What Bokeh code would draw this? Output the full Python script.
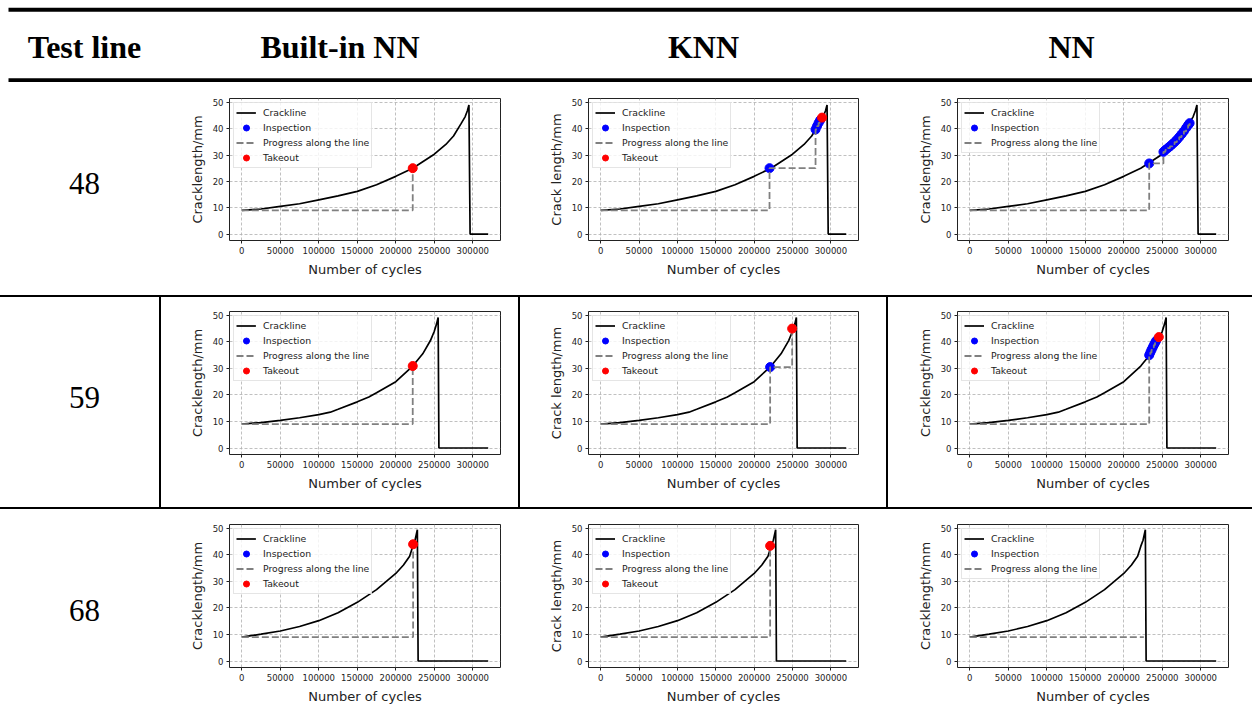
from bokeh.plotting import figure
from bokeh.layouts import row, column
from bokeh.models import Range1d, FixedTicker, BasicTickFormatter, Legend, LegendItem, Div
from bokeh.core.properties import value
from bokeh.embed import file_html
from bokeh.resources import INLINE
from bokeh.core.validation import silence
from bokeh.core.validation.warnings import MISSING_RENDERERS

silence(MISSING_RENDERERS, True)
NAN = float("nan")

# ---------------- data ----------------
HEADERS = ["Test line", "Built-in NN", "KNN", "NN"]
TEST_LINES = ["48", "59", "68"]
Y_LABELS = ["Cracklength/mm", "Crack length/mm", "Cracklength/mm"]
X_LABEL = "Number of cycles"
X_TICKS = [0, 50000, 100000, 150000, 200000, 250000, 300000]
Y_TICKS = [0, 10, 20, 30, 40, 50]
INITIAL_LENGTH = 9.0

crack48_cycles = [0, 25000, 50000, 75000, 100000, 125000, 150000, 175000, 200000, 222000,
                  250000, 265000, 275000, 285000, 290000, 293000, 295000, 296500, 320000]
crack48_length = [9.0, 9.5, 10.5, 11.5, 13.0, 14.5, 16.2, 18.7, 21.9, 25.0,
                  30.3, 34.0, 37.2, 42.0, 44.5, 46.8, 49.0, 0.0, 0.0]

crack59_cycles = [0, 25000, 50000, 75000, 100000, 115000, 125000, 150000, 165000, 175000,
                  200000, 222000, 235000, 245000, 250000, 253000, 255000, 256000, 320000]
crack59_length = [9.0, 9.6, 10.4, 11.4, 12.6, 13.5, 14.6, 17.4, 19.2, 20.8,
                  25.0, 30.9, 35.5, 40.5, 44.0, 46.8, 49.2, 0.0, 0.0]

crack68_cycles = [0, 25000, 50000, 75000, 100000, 125000, 150000, 175000, 200000, 210000,
                  218000, 222000, 225000, 228000, 229000, 320000]
crack68_length = [9.0, 10.1, 11.3, 13.0, 15.2, 18.2, 22.1, 26.9, 33.0, 36.2,
                  39.5, 43.2, 45.5, 49.5, 0.0, 0.0]

# line 48
insp48_builtin_x, insp48_builtin_y = [], []
take48_builtin_x, take48_builtin_y = [222000], [25.0]
insp48_knn_x = [220000, 280000, 282000, 284000, 286000]
insp48_knn_y = [25.0, 39.7, 41.0, 42.2, 43.2]
take48_knn_x, take48_knn_y = [288500], [44.2]
insp48_nn_x = [233000, 251500, 254000, 257000, 260000, 263000, 266000, 269000, 272000,
               275000, 278000, 281000, 283500, 285500]
insp48_nn_y = [26.8, 31.2, 31.9, 32.6, 33.3, 34.1, 34.9, 35.8, 36.8,
               37.9, 39.0, 40.3, 41.3, 42.1]
take48_nn_x, take48_nn_y = [], []

# line 59
insp59_builtin_x, insp59_builtin_y = [], []
take59_builtin_x, take59_builtin_y = [222000], [30.9]
insp59_knn_x, insp59_knn_y = [220800], [30.5]
take59_knn_x, take59_knn_y = [249500], [45.0]
insp59_nn_x = [233000, 234500, 236000, 237500, 239000, 240500, 242000]
insp59_nn_y = [35.0, 36.0, 37.0, 37.9, 38.8, 39.6, 40.4]
take59_nn_x, take59_nn_y = [245500], [41.8]

# line 68
insp68_builtin_x, insp68_builtin_y = [], []
take68_builtin_x, take68_builtin_y = [222500], [44.0]
insp68_knn_x, insp68_knn_y = [], []
take68_knn_x, take68_knn_y = [220800], [43.4]
insp68_nn_x, insp68_nn_y = [], []
take68_nn_x, take68_nn_y = [], []
progress68_nn_end = 226000

CRACKS = [(crack48_cycles, crack48_length), (crack59_cycles, crack59_length),
          (crack68_cycles, crack68_length)]
CELLS = [
    [(insp48_builtin_x, insp48_builtin_y, take48_builtin_x, take48_builtin_y, None),
     (insp48_knn_x, insp48_knn_y, take48_knn_x, take48_knn_y, None),
     (insp48_nn_x, insp48_nn_y, take48_nn_x, take48_nn_y, None)],
    [(insp59_builtin_x, insp59_builtin_y, take59_builtin_x, take59_builtin_y, None),
     (insp59_knn_x, insp59_knn_y, take59_knn_x, take59_knn_y, None),
     (insp59_nn_x, insp59_nn_y, take59_nn_x, take59_nn_y, None)],
    [(insp68_builtin_x, insp68_builtin_y, take68_builtin_x, take68_builtin_y, None),
     (insp68_knn_x, insp68_knn_y, take68_knn_x, take68_knn_y, None),
     (insp68_nn_x, insp68_nn_y, take68_nn_x, take68_nn_y, progress68_nn_end)],
]

# ---------------- layout geometry (px) ----------------
TOTAL_W = 1252
HEADER_H = 82
ROW_H = [213, 210, 211]
FRAME_TB = [(16, 55), (14, 53), (15, 53)]
LABEL_W = 159
SEP = 2
COL_W = [357, 366, 364]
FRAME_LR = [(68, 18), (68, 28), (69, 24)]
HEADER_X = [84, 339.5, 703, 1071]

SERIF = "Liberation Serif"
SANS = "DejaVu Sans"


def progress_path(ix, iy, tx, ty, end_x):
    events = sorted(zip(list(ix) + list(tx), list(iy) + list(ty)))
    xs, ys = [0], [INITIAL_LENGTH]
    prev = INITIAL_LENGTH
    for x, y in events:
        xs += [x, x]
        ys += [prev, y]
        prev = y
    if end_x is not None:
        xs.append(end_x)
        ys.append(prev)
    return xs, ys


def bar(w, h, color):
    return Div(width=w, height=h, margin=0, styles={"background-color": color})


def header():
    p = figure(width=TOTAL_W, height=HEADER_H, output_backend="svg", toolbar_location=None,
               x_axis_location=None, y_axis_location=None, min_border=0,
               x_range=Range1d(0, TOTAL_W), y_range=Range1d(HEADER_H, 0))
    p.grid.visible = False
    p.outline_line_color = None
    p.quad(left=[8, 8], right=[TOTAL_W] * 2, top=[7.3, 77.7], bottom=[11.3, 82],
           color="black", line_width=0)
    p.text(x=HEADER_X, y=[46] * 4, text=HEADERS, text_font=value(SERIF),
           text_font_style="bold", text_font_size="32px", text_align="center",
           text_baseline="alphabetic", text_color="black")
    return p


def label_cell(txt, h):
    p = figure(width=LABEL_W, height=h, output_backend="svg", toolbar_location=None,
               x_axis_location=None, y_axis_location=None, min_border=0,
               x_range=Range1d(0, LABEL_W), y_range=Range1d(h, 0))
    p.grid.visible = False
    p.outline_line_color = None
    p.text(x=[84], y=[h / 2 + 21], text=[txt], text_font=value(SERIF),
           text_font_size="31px", text_align="center", text_baseline="alphabetic",
           text_color="black")
    return p


def plot_cell(ri, ci):
    cx, cy = CRACKS[ri]
    ix, iy, tx, ty, end_x = CELLS[ri][ci]
    fl, fr = FRAME_LR[ci]
    ft, fb = FRAME_TB[ri]
    p = figure(width=COL_W[ci], height=ROW_H[ri], output_backend="svg", toolbar_location=None,
               x_range=Range1d(-16000, 336000), y_range=Range1d(-2.45, 51.45),
               min_border_left=fl, min_border_right=fr, min_border_top=ft,
               min_border_bottom=fb)
    p.outline_line_color = "#222222"
    p.outline_line_width = 1
    p.xaxis.ticker = FixedTicker(ticks=X_TICKS)
    p.yaxis.ticker = FixedTicker(ticks=Y_TICKS)
    p.xaxis.formatter = BasicTickFormatter(use_scientific=False)
    for ax in (p.xaxis[0], p.yaxis[0]):
        ax.axis_line_color = None
        ax.minor_tick_line_color = None
        ax.major_tick_in = 0
        ax.major_tick_out = 3
        ax.major_tick_line_color = "#222222"
        ax.major_label_standoff = 3
        ax.major_label_text_font = SANS
        ax.major_label_text_font_size = "8.5px"
        ax.major_label_text_color = "#222222"
        ax.axis_label_text_font = SANS
        ax.axis_label_text_font_size = "13px"
        ax.axis_label_text_font_style = "normal"
        ax.axis_label_text_color = "#222222"
        ax.axis_label_standoff = 5
    p.xaxis.axis_label = X_LABEL
    p.yaxis.axis_label = Y_LABELS[ci]
    p.grid.grid_line_color = "#b0b0b0"
    p.grid.grid_line_dash = "3 2"
    p.grid.grid_line_width = 0.8

    r_line = p.line(cx, cy, color="black", line_width=1.7)
    sx = ix if len(ix) else [NAN]
    sy = iy if len(iy) else [NAN]
    r_insp = p.scatter(sx, sy, size=9, color="#0000ff")
    px, py = progress_path(ix, iy, tx, ty, end_x)
    r_prog = p.line(px, py, color="gray", line_width=1.8, line_dash="7 3")
    items = [LegendItem(label="Crackline", renderers=[r_line]),
             LegendItem(label="Inspection", renderers=[r_insp]),
             LegendItem(label="Progress along the line", renderers=[r_prog])]
    if len(tx) > 0:
        r_take = p.scatter(tx, ty, size=9, color="#ff0000")
        items.append(LegendItem(label="Takeout", renderers=[r_take]))
    leg = Legend(items=items, location="top_left", margin=4, padding=2, spacing=-1,
                 glyph_width=20, glyph_height=15, label_height=15, label_standoff=7,
                 label_text_font=SANS, label_text_font_size="9.3px",
                 label_text_color="#222222", border_line_color="#cccccc",
                 border_line_width=1, background_fill_alpha=0.8)
    p.add_layout(leg)
    return p


rows = [header()]
for ri in range(3):
    sep_color = "black" if ri == 1 else "white"
    children = [label_cell(TEST_LINES[ri], ROW_H[ri])]
    for ci in range(3):
        children.append(bar(SEP, ROW_H[ri], sep_color))
        children.append(plot_cell(ri, ci))
    rows.append(row(children, spacing=0))
    if ri < 2:
        rows.append(bar(TOTAL_W, SEP, "black"))

layout = column(rows, spacing=0)

with open("out.html", "w") as f:
    f.write(file_html(layout, INLINE))
